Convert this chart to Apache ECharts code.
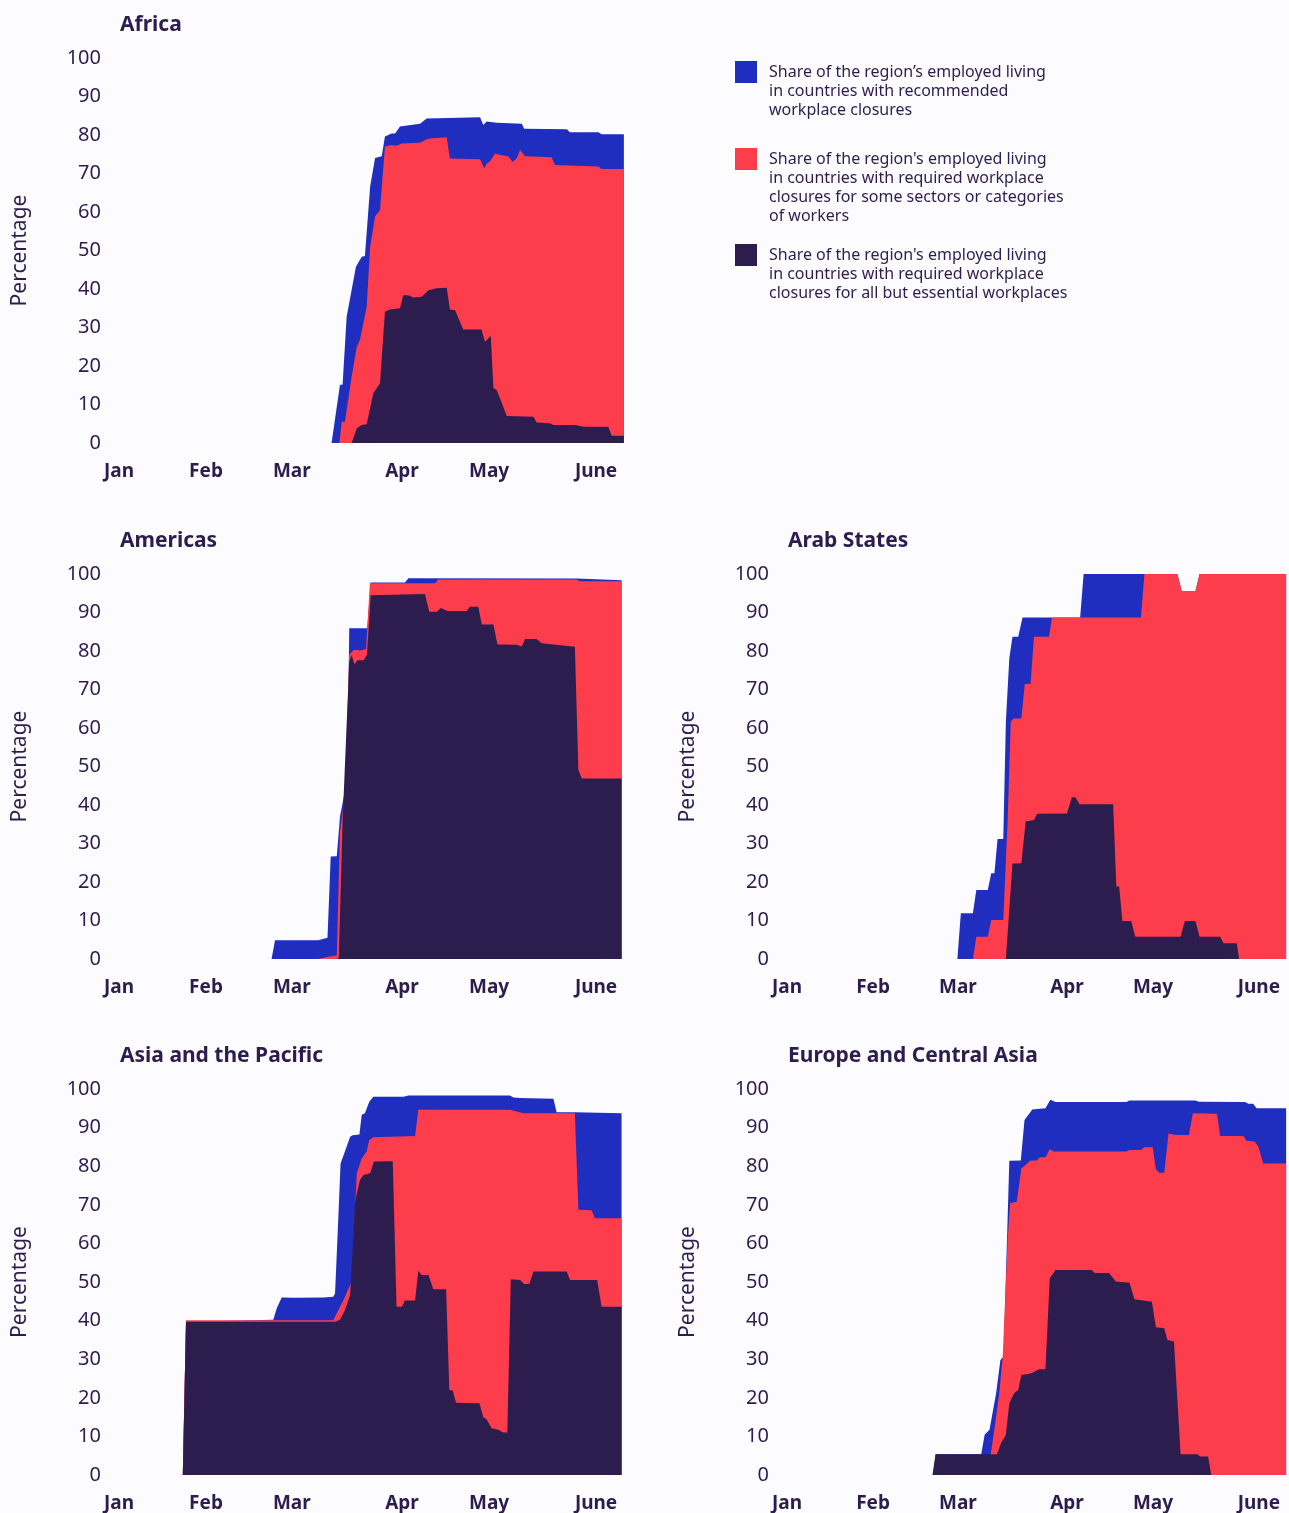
<!DOCTYPE html>
<html>
<head>
<meta charset="utf-8">
<script src="https://cdn.jsdelivr.net/npm/echarts@6/dist/echarts.min.js"></script>
<style>
html,body{margin:0;padding:0;background:#fcfcfe;}
#chart{width:1289px;height:1513px;}
</style>
</head>
<body>
<div id="chart"></div>
<script>
// x values = days since 1 January
const monthLabels = ['Jan', 'Feb', 'Mar', 'Apr', 'May', 'June'];
const monthTickDays = [0, 30, 59.6, 97.6, 127.6, 164.5];
const yTicks = [0, 10, 20, 30, 40, 50, 60, 70, 80, 90, 100];

const regionNames = ['Africa', 'Americas', 'Arab States', 'Asia and the Pacific', 'Europe and Central Asia'];
const seriesNames = [
  'Share of the region\u2019s employed living\nin countries with recommended\nworkplace closures',
  "Share of the region's employed living\nin countries with required workplace\nclosures for some sectors or categories\nof workers",
  "Share of the region's employed living\nin countries with required workplace\nclosures for all but essential workplaces"
];

const africaRecommended = [[73.3,0],[76.2,15.1],[77.1,15.1],[78.5,32.8],[80.2,39.7],[81.7,45.8],[83.7,48.4],[84.8,48.6],[86.6,66.6],[88.3,74],[90.6,74.5],[91.7,79.6],[94,80.4],[95.2,80.4],[96.9,82.2],[103.8,82.9],[106.1,84.3],[124.5,84.6],[125.6,82.6],[126.8,83.5],[130.2,83.2],[138.9,82.9],[139.7,81.6],[154.4,81.5],[155.5,80.7],[165.3,80.7],[166.4,80.2],[174.1,80.2]];
const africaSome = [[76,0],[76.8,5.5],[77.9,5.5],[80.2,17.2],[82,25],[83.1,26.8],[85.4,35.4],[86.6,51],[88.3,58.8],[90,60.5],[91.7,77],[94,77.4],[95.7,77.2],[97.5,77.8],[103.8,78],[106.1,78.9],[107.2,79.1],[113,79.4],[114.1,73.9],[124.5,73.7],[126,71.3],[126.8,72.6],[128,73.2],[129.7,75.2],[131.4,74.8],[134.2,74.5],[135.7,73],[137.1,73.9],[138.3,76.1],[140,74.5],[149.2,74.2],[150.3,72.2],[165.3,71.8],[166.4,71.2],[174.1,71.2]];
const africaAll = [[80.2,0],[82,3.8],[83.7,4.7],[85.4,4.9],[87.7,12.9],[90,15.5],[91.7,34.1],[93.4,34.7],[96.9,35],[98,38.4],[99.8,38.4],[101.5,37.8],[104.4,38],[106.7,39.7],[109.5,40.2],[113,40.3],[114.1,34.7],[115.9,34.5],[118.7,29.5],[125,29.5],[126.2,26.3],[128.2,27.8],[129.1,14.2],[130.2,13.8],[132.5,9.4],[133.7,7],[142.9,6.8],[144,5.3],[148.6,5.1],[149.8,4.7],[157.4,4.7],[160.1,4.2],[168.7,4.2],[169.9,1.9],[174.1,1.9]];

const americasRecommended = [[52.6,0],[53.8,4.9],[68.7,4.9],[69.3,5.4],[71.9,5.5],[73,26.6],[75.1,26.7],[76.2,37],[77.4,41.7],[78.7,47],[79.4,85.9],[85.6,85.9],[86.8,97.8],[98.6,97.8],[99.8,98.9],[157.8,98.8],[173.3,98.4]];
const americasSome = [[68.7,0],[72.2,0.6],[75.1,0.9],[76.2,33],[78,43.5],[79.4,79],[80.8,80.2],[82,80.3],[83.1,80.1],[84.3,80.3],[85.2,80.5],[86.5,97.6],[109,97.6],[110.1,98.6],[157.8,98.6],[158.8,98.1],[173.3,98.1]];
const americasAll = [[75.1,0],[75.8,0.3],[77.1,35.7],[79.4,77.2],[80.2,79],[81.2,76.5],[82.2,77.6],[84.3,77.6],[85.5,79],[86.8,94.5],[105.5,94.8],[107,90.2],[109.6,90.2],[111,91.2],[113.2,90.4],[119.9,90.4],[121,91.5],[123.9,91.5],[125.1,86.9],[129.1,86.9],[130.5,81.7],[137.1,81.6],[138.9,81.2],[140,83.1],[144,83.1],[145.8,82],[149.8,81.7],[157.2,81.1],[158.4,49.1],[159.6,46.9],[173.3,46.9]];

const arabRecommended = [[59.4,0],[60.6,11.9],[64.8,11.9],[66,17.9],[70,17.9],[71.2,22.3],[72.3,22.3],[73.4,31.2],[75.4,31.2],[76.3,61.6],[77.5,78.1],[78.6,83.7],[80.6,83.7],[82.1,88.7],[102.2,88.7],[103.4,100],[136.1,100],[137.6,95.6],[142.4,95.6],[143.8,100],[174,100]];
const arabSome = [[64.8,0],[66,5.8],[70,5.8],[71.2,10.1],[75.4,10.1],[76.9,35.7],[78,61.6],[79,62.5],[81.7,62.5],[82.9,71.4],[84.9,71.4],[86.1,83.7],[91.3,83.7],[92.4,88.7],[123.4,88.7],[124.6,100],[136.1,100],[137.6,95.6],[142.4,95.6],[143.8,100],[174,100]];
const arabAll = [[76.3,0],[78.6,24.8],[81.7,24.9],[83.2,35.7],[86.1,36.1],[87.2,37.7],[97.6,37.8],[99.3,42],[100.5,42],[102,40.2],[113.7,40.2],[114.8,18.8],[115.8,18.8],[116.9,9.9],[120,9.9],[121.4,5.8],[137.2,5.8],[138.7,9.9],[142.4,9.9],[143.8,5.8],[151,5.8],[152.2,4.1],[156.8,4.1],[157.6,0]];

const asiaRecommended = [[22,0],[23.1,39.7],[53.2,40.2],[54.4,43.2],[56.1,46],[60.7,45.9],[70.5,46],[73.9,46.2],[74.5,47],[75.6,66.1],[76.4,80.7],[77.9,83.8],[79.7,87.6],[80.6,88],[82.9,88.2],[83.7,93.3],[84.8,93.7],[86.3,96.7],[87.7,98],[98.1,98],[99.8,98.3],[134.8,98.3],[136,97.8],[138.3,97.7],[149.8,97.5],[150.9,94],[157.2,94],[173.3,93.7]];
const asiaSome = [[22,0],[23.1,40.1],[73.9,40.1],[75.6,42.7],[77.4,45.3],[80.2,50.1],[82,78.2],[83.7,82],[85.4,83.8],[86.3,86.8],[87.7,87.5],[102.1,87.8],[103.2,94.6],[134.8,94.6],[139.4,93.7],[157.2,93.7],[158.4,68.7],[163,68.6],[164.1,66.5],[173.3,66.5]];
const asiaAll = [[22,0],[23.1,39.7],[74.5,39.7],[76.2,40.2],[77.9,42.7],[79.7,46.6],[81.4,70.4],[82,73],[83.1,76.4],[84.3,77.7],[86.6,78.2],[87.9,81.2],[94.4,81.3],[95.7,43.6],[97.5,43.6],[98.6,45.2],[102.1,45.2],[103.2,52.9],[104.4,51.8],[106.7,51.8],[108.4,48.1],[112.8,48.1],[113.9,22],[115.1,21.9],[116.2,18.7],[124.3,18.6],[125.6,15],[126.8,14.4],[128.5,12.1],[130.8,11.7],[132.5,11],[133.9,11],[135.1,50.7],[138.3,50.5],[139.7,49.5],[141.5,49.5],[142.9,52.7],[154.4,52.7],[155.5,50.5],[164.9,50.5],[166.4,43.6],[173.3,43.6]];

const europeRecommended = [[51,0],[51.8,5.4],[67.7,5.4],[68.9,10.4],[70.6,11.7],[72.9,21.2],[74.4,29.8],[75.5,30.7],[77.5,81.4],[81.5,81.5],[82.8,92],[85.5,94.7],[90.1,95],[91.8,97.2],[93.6,96.6],[118.3,96.6],[119.4,97],[142.4,97],[143.6,96.7],[159.7,96.6],[160.8,96.2],[162.5,96.2],[163.7,95],[174,95]];
const europeSome = [[70,0],[72.1,10.8],[74,21.2],[75.2,30.7],[76.9,60.9],[77.8,70.4],[80.1,70.8],[81.7,79.5],[83.2,80.3],[84.7,81.4],[87,81.5],[88.2,82.3],[90.1,82.3],[91.6,84.4],[93,83.8],[118.3,83.8],[119.4,84.2],[123.4,84.2],[124.6,84.9],[127.5,84.9],[128.6,79.2],[129.8,78.3],[131.5,78.3],[133,88.5],[135.5,88.1],[140.1,88.1],[141.5,93.7],[149.9,93.6],[151,87.8],[159.1,87.8],[160.2,86.6],[162.9,86.4],[164.3,85.1],[166,80.7],[174,80.7]];
const europeAll = [[50.7,0],[51.8,5.4],[73.2,5.4],[74.6,8.2],[76.3,10.4],[77.5,18.6],[79.2,21.2],[80.6,22],[81.7,25.9],[84.9,26.3],[86.1,26.7],[87.8,27.4],[90.1,27.4],[91.6,51],[93.6,53.1],[106.2,53.1],[107.3,52.3],[112.3,52.3],[114.6,50.1],[119.4,49.8],[121.1,45.5],[127.2,44.9],[128.6,38.3],[131.5,38],[132.6,35],[134.9,34.6],[137.2,5.4],[143,5.4],[144.1,4.8],[146.8,4.8],[147.9,0]];

const panelData = [
  [africaRecommended, africaSome, africaAll],
  [americasRecommended, americasSome, americasAll],
  [arabRecommended, arabSome, arabAll],
  [asiaRecommended, asiaSome, asiaAll],
  [europeRecommended, europeSome, europeAll]
];

const BLUE = '#1f2ebf', RED = '#fd3c4c', DARK = '#2d1c4e', TEXT = '#2d1d4f';
const FONT = '"Noto Sans", "Open Sans", sans-serif';
const colors = [BLUE, RED, DARK];

const xMax = 175, pxPerDay = 2.9;
const gridPos = [
  {left: 119, top: 58, height: 385},
  {left: 119, top: 574, height: 385},
  {left: 787, top: 574, height: 385},
  {left: 119, top: 1089, height: 386},
  {left: 787, top: 1089, height: 386}
];

const grids = [], xAxes = [], yAxes = [], series = [], titles = [];
gridPos.forEach((g, i) => {
  grids.push({left: g.left, top: g.top, width: xMax * pxPerDay, height: g.height, containLabel: false});
  xAxes.push({
    type: 'value', gridIndex: i, min: 0, max: xMax,
    axisLine: {show: false}, axisTick: {show: false}, splitLine: {show: false},
    axisLabel: {
      customValues: monthTickDays,
      formatter: v => { const k = monthTickDays.findIndex(d => Math.abs(d - v) < 0.01); return k >= 0 ? monthLabels[k] : ''; },
      color: TEXT, fontFamily: FONT, fontSize: 19, fontWeight: 'bold', margin: 19
    }
  });
  yAxes.push({
    type: 'value', gridIndex: i, min: 0, max: 100, interval: 10,
    axisLine: {show: false}, axisTick: {show: false}, splitLine: {show: false},
    axisLabel: {color: TEXT, fontFamily: FONT, fontSize: 20, margin: 18},
    name: 'Percentage', nameLocation: 'middle', nameRotate: 90, nameGap: 88,
    nameTextStyle: {color: TEXT, fontFamily: FONT, fontSize: 21}
  });
  titles.push({
    text: regionNames[i], left: g.left - 4, top: g.top - 48,
    textStyle: {color: TEXT, fontFamily: FONT, fontSize: 21, fontWeight: 'bold'}
  });
  panelData[i].forEach((d, s) => {
    series.push({
      name: seriesNames[s], type: 'line', xAxisIndex: i, yAxisIndex: i, data: d,
      symbol: 'none', showSymbol: false, silent: true, z: 2 + s,
      lineStyle: {color: colors[s], width: 0},
      itemStyle: {color: colors[s]},
      areaStyle: {color: colors[s], opacity: 1}
    });
  });
});

// legend drawn as graphic blocks (square at top-left of each text block)
const legendTops = [61, 148, 244];
const legendGraphic = [];
seriesNames.forEach((n, s) => {
  legendGraphic.push({type: 'rect', left: 735, top: legendTops[s], shape: {width: 22, height: 22}, style: {fill: colors[s]}});
  legendGraphic.push({type: 'text', left: 769, top: legendTops[s] + 2,
    style: {text: n, fill: TEXT, font: '16px ' + FONT, lineHeight: 19}});
});

const chart = echarts.init(document.getElementById('chart'), null, {renderer: 'canvas'});
chart.setOption({
  backgroundColor: '#fcfcfe',
  animation: false,
  title: titles,
  grid: grids,
  xAxis: xAxes,
  yAxis: yAxes,
  series: series,
  graphic: legendGraphic
});
</script>
</body>
</html>
